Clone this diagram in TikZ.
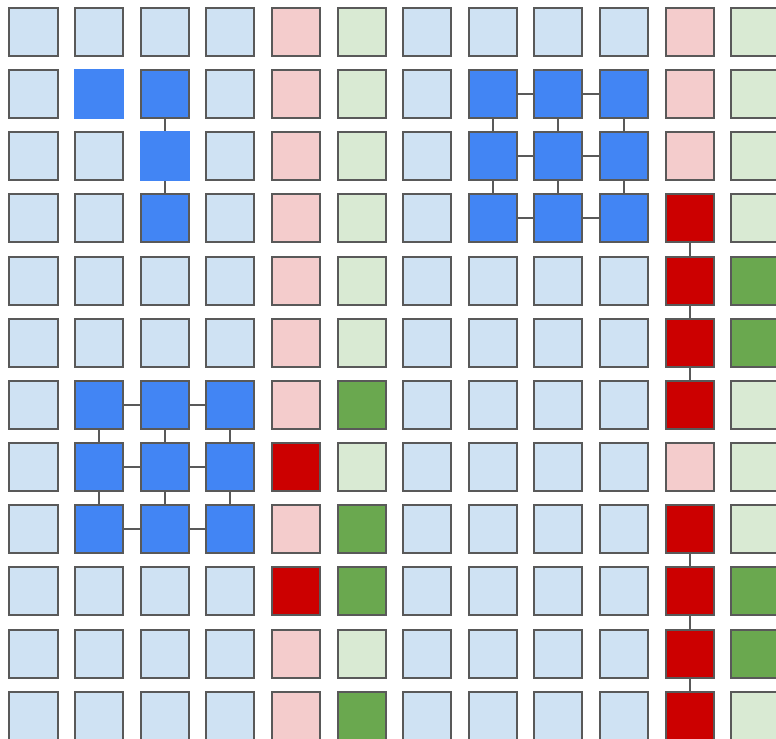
\documentclass[tikz,border=0pt]{standalone}
\usetikzlibrary{calc}
\definecolor{edgegray}{HTML}{595959}
\definecolor{lblue}{HTML}{CFE2F3}
\definecolor{dblue}{HTML}{4285F4}
\definecolor{lred}{HTML}{F4CCCC}
\definecolor{dred}{HTML}{CC0000}
\definecolor{lgreen}{HTML}{D9EAD3}
\definecolor{dgreen}{HTML}{6AA84F}
\tikzset{
  sq/.style={rectangle, inner sep=0pt, outer sep=0pt, minimum size=48bp, draw=edgegray, line width=2bp},
  t-a/.style={sq, fill=lblue},
  t-b/.style={sq, fill=dblue},
  t-n/.style={rectangle, inner sep=0pt, outer sep=0pt, minimum size=50bp, fill=dblue},
  t-p/.style={sq, fill=lred},
  t-r/.style={sq, fill=dred},
  t-l/.style={sq, fill=lgreen},
  t-g/.style={sq, fill=dgreen},
  link/.style={draw=edgegray, line width=2bp}
}
\begin{document}
\begin{tikzpicture}[x=1bp,y=-1bp]
\useasboundingbox (0,0) rectangle (776,739);
\foreach \rowlist [count=\r from 0] in {
  {a,a,a,a,p,l,a,a,a,a,p,l},
  {a,n,b,a,p,l,a,b,b,b,p,l},
  {a,a,n,a,p,l,a,b,b,b,p,l},
  {a,a,b,a,p,l,a,b,b,b,r,l},
  {a,a,a,a,p,l,a,a,a,a,r,g},
  {a,a,a,a,p,l,a,a,a,a,r,g},
  {a,b,b,b,p,g,a,a,a,a,r,l},
  {a,b,b,b,r,l,a,a,a,a,p,l},
  {a,b,b,b,p,g,a,a,a,a,r,l},
  {a,a,a,a,r,g,a,a,a,a,r,g},
  {a,a,a,a,p,l,a,a,a,a,r,g},
  {a,a,a,a,p,g,a,a,a,a,r,l}} {
  \foreach \t [count=\c from 0] in \rowlist {
    \node[t-\t] (n-\r-\c) at ({33.5+65.6*\c},{32+62.15*\r}) {};
  }
}
% left top vertical chain
\draw[link] (n-1-2) -- (n-2-2);
\draw[link] (n-2-2) -- (n-3-2);
% right top 3x3 block
\foreach \r in {1,2,3} {
  \draw[link] (n-\r-7) -- (n-\r-8);
  \draw[link] (n-\r-8) -- (n-\r-9);
}
\foreach \c in {7,8,9} {
  \draw[link] (n-1-\c) -- (n-2-\c);
  \draw[link] (n-2-\c) -- (n-3-\c);
}
% left lower 3x3 block
\foreach \r in {6,7,8} {
  \draw[link] (n-\r-1) -- (n-\r-2);
  \draw[link] (n-\r-2) -- (n-\r-3);
}
\foreach \c in {1,2,3} {
  \draw[link] (n-6-\c) -- (n-7-\c);
  \draw[link] (n-7-\c) -- (n-8-\c);
}
% red column
\draw[link] (n-3-10) -- (n-4-10);
\draw[link] (n-4-10) -- (n-5-10);
\draw[link] (n-5-10) -- (n-6-10);
\draw[link] (n-8-10) -- (n-9-10);
\draw[link] (n-9-10) -- (n-10-10);
\draw[link] (n-10-10) -- (n-11-10);
\end{tikzpicture}
\end{document}
